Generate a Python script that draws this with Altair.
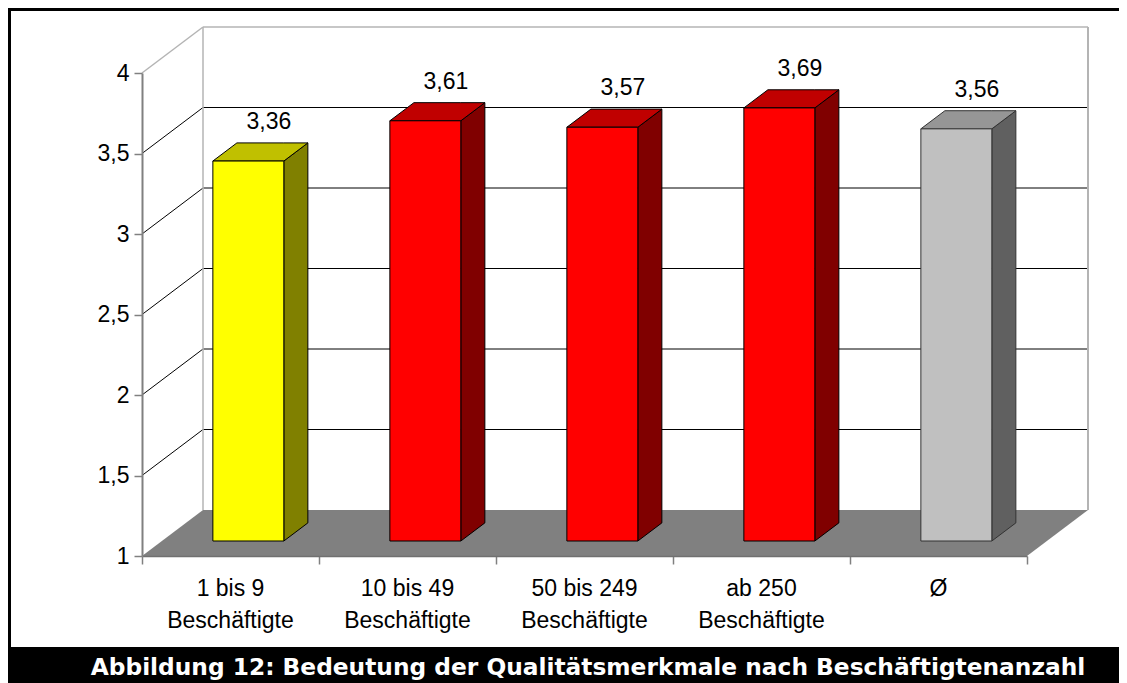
import altair as alt
import pandas as pd

# ---------------- data ----------------
categories = ["1 bis 9\nBeschäftigte", "10 bis 49\nBeschäftigte", "50 bis 249\nBeschäftigte",
              "ab 250\nBeschäftigte", "Ø"]
values = [3.36, 3.61, 3.57, 3.69, 3.56]
front_colors = ["#FFFF00", "#FF0000", "#FF0000", "#FF0000", "#C0C0C0"]
side_colors = ["#808000", "#800000", "#800000", "#800000", "#606060"]
top_colors = ["#C0C000", "#C00000", "#C00000", "#C00000", "#969696"]
edge_colors = ["#000000", "#000000", "#000000", "#000000", "#333333"]
y_ticks = [1, 1.5, 2, 2.5, 3, 3.5, 4]
grid_values = [1.5, 2, 2.5, 3, 3.5]
caption = "Abbildung 12: Bedeutung der Qualitätsmerkmale nach Beschäftigtenanzahl"

# ---------------- oblique 3D projection (style constants) ----------------
DX = 61 / 177      # depth shift in category units
DY = 46 / 161      # depth shift in value units
BAR_L = 0.288      # bar left inset within its category slot
BAR_W = 0.401      # bar width in category units
D0, D1 = 0.326, 0.72   # bar depth range
W, H = 1111, 675
FONT = "Liberation Sans"

n = len(categories)

xs = alt.Scale(domain=[0, 5], range=[134, 1019], nice=False, zero=False)
ys = alt.Scale(domain=[1, 4], range=[548, 65], nice=False, zero=False)

x_axis = alt.Axis(values=list(range(n + 1)), labels=False, ticks=True, tickSize=8,
                  tickColor="#808080", tickWidth=1.5, domainColor="#707070",
                  domainWidth=1.5, offset=-127, grid=False, title=None, zindex=1)
y_axis = alt.Axis(values=y_ticks, format="~g",
                  labelExpr="replace(datum.label, '.', ',')",
                  offset=-134, grid=False, title=None, tickSize=8,
                  tickColor="#808080", tickWidth=1.5, domainColor="#808080",
                  domainWidth=2, labelFont=FONT, labelFontSize=23,
                  labelColor="#000000", labelPadding=5, zindex=1)


def X(f):
    return alt.X(f, type="quantitative", scale=xs, axis=x_axis)


def Y(f):
    return alt.Y(f, type="quantitative", scale=ys, axis=y_axis, stack=None)


# floor
floor_df = pd.DataFrame({
    "x": [0, DX, 5, 5 + DX],
    "y": [1, 1 + DY, 1 + DY, 1 + DY],
    "y2": [1, 1, 1, 1 + DY],
})
floor = alt.Chart(floor_df).mark_area(color="#808080", orient="vertical").encode(
    x=X("x"), y=Y("y"), y2="y2:Q",
)

# walls / grid lines
rows = []
for v in grid_values:
    rows.append(dict(x=DX, x2=5 + DX, y=v + DY, y2=v + DY, c="#000000", w=1))
    rows.append(dict(x=0, x2=DX, y=v, y2=v + DY, c="#000000", w=1))
rows.append(dict(x=DX, x2=5 + DX, y=4 + DY, y2=4 + DY, c="#b4b4b4", w=1.5))
rows.append(dict(x=0, x2=DX, y=4, y2=4 + DY, c="#b4b4b4", w=1.5))
rows.append(dict(x=DX, x2=DX, y=1 + DY, y2=4 + DY, c="#b4b4b4", w=1.5))
rows.append(dict(x=5 + DX, x2=5 + DX, y=1 + DY, y2=4 + DY, c="#b4b4b4", w=2))
lines_df = pd.DataFrame(rows)
lines = alt.Chart(lines_df).mark_rule().encode(
    x=X("x"), x2="x2:Q", y=Y("y"), y2="y2:Q",
    stroke=alt.Stroke("c:N", scale=None),
    strokeWidth=alt.StrokeWidth("w:Q", scale=None),
)

# bars
front_rows, side_rows, top_rows = [], [], []
for i, v in enumerate(values):
    xl0 = i + BAR_L + D0 * DX
    xr0 = xl0 + BAR_W
    v0 = v + D0 * DY
    b0 = 1 + D0 * DY
    ddx = (D1 - D0) * DX
    ddy = (D1 - D0) * DY
    front_rows.append(dict(x=xl0, x2=xr0, y=b0, y2=v0, f=front_colors[i], e=edge_colors[i]))
    for px, pt, pb in [(xr0, v0, b0), (xr0 + ddx, v0 + ddy, b0 + ddy)]:
        side_rows.append(dict(g=f"s{i}", x=px, y=pt, y2=pb, f=side_colors[i], e=edge_colors[i]))
    for px, pt, pb in [(xl0, v0, v0), (xl0 + ddx, v0 + ddy, v0),
                       (xr0, v0 + ddy, v0), (xr0 + ddx, v0 + ddy, v0 + ddy)]:
        top_rows.append(dict(g=f"t{i}", x=px, y=pt, y2=pb, f=top_colors[i], e=edge_colors[i]))


def face_layer(df):
    return alt.Chart(df).mark_area(orient="vertical", strokeWidth=1).encode(
        x=X("x"), y=Y("y"), y2="y2:Q",
        fill=alt.Fill("f:N", scale=None),
        stroke=alt.Stroke("e:N", scale=None),
        detail="g:N",
    )


sides = face_layer(pd.DataFrame(side_rows))
tops = face_layer(pd.DataFrame(top_rows))

fronts = alt.Chart(pd.DataFrame(front_rows)).mark_rect(strokeWidth=1).encode(
    x=X("x"), x2="x2:Q", y=Y("y"), y2="y2:Q",
    fill=alt.Fill("f:N", scale=None),
    stroke=alt.Stroke("e:N", scale=None),
)

# value labels
lab_df = pd.DataFrame({
    "x": [i + BAR_L + BAR_W / 2 + D1 * DX - 0.02 for i in range(n)],
    "y": [v + D1 * DY for v in values],
    "t": [f"{v:.2f}".replace(".", ",") for v in values],
})
value_labels = alt.Chart(lab_df).mark_text(
    font=FONT, fontSize=23, baseline="alphabetic", align="center", dy=-14, color="#000000"
).encode(x=X("x"), y=Y("y"), text="t:N")

# category labels
cat_df = pd.DataFrame({"x": [i + 0.5 for i in range(n)], "y": [1] * n, "t": categories})
cat_labels = alt.Chart(cat_df).mark_text(
    font=FONT, fontSize=23, baseline="top", align="center", dy=22, lineBreak="\n",
    lineHeight=32, color="#000000"
).encode(x=X("x"), y=Y("y"), text="t:N")

# frame and caption band
cap_df = pd.DataFrame({"t": [caption]})
band = alt.Chart(cap_df).mark_rect(color="#000000").encode(
    x=alt.value(0), x2=alt.value(W), y=alt.value(639), y2=alt.value(H)
)
cap_text = alt.Chart(cap_df).mark_text(
    font="DejaVu Sans", fontWeight="bold", fontSize=23.3, color="#FFFFFF",
    align="center", baseline="alphabetic"
).encode(x=alt.value(580), y=alt.value(667), text="t:N")
frame_top = alt.Chart(cap_df).mark_rule(color="#000000", strokeWidth=4).encode(
    x=alt.value(0), x2=alt.value(W), y=alt.value(1)
)
frame_left = alt.Chart(cap_df).mark_rule(color="#000000", strokeWidth=4).encode(
    x=alt.value(1), y=alt.value(0), y2=alt.value(639)
)

chart = alt.layer(
    floor, lines, sides, tops, fronts, value_labels, cat_labels, band, cap_text,
    frame_top, frame_left
).properties(
    width=W, height=H, padding=0, background="#FFFFFF",
    autosize=alt.AutoSizeParams(type="none"),
).configure_view(strokeWidth=0)

chart.save("out.html", embed_options={"renderer": "svg", "actions": False})
